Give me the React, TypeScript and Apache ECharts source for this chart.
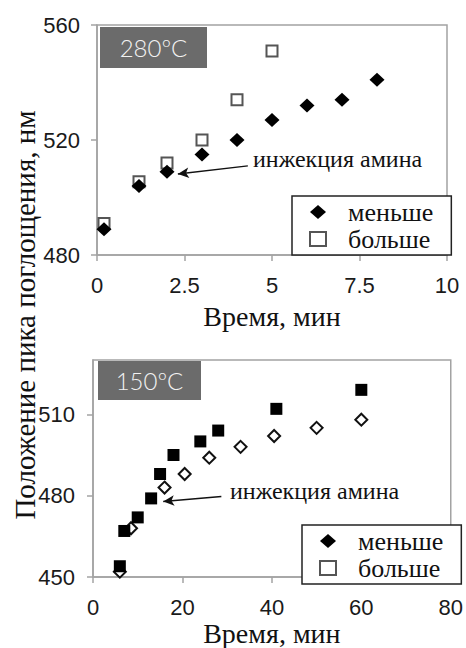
import React, { useEffect, useRef } from "react";
import * as echarts from "echarts";

// ---- Data ----
const topTimeSmaller = [0.2, 1.2, 2, 3, 4, 5, 6, 7, 8];
const topSmaller = [489, 504, 509, 515, 520, 527, 532, 534, 541];
const topTimeLarger = [0.2, 1.2, 2, 3, 4, 5];
const topLarger = [491, 505.5, 512, 520, 534, 551];

const bottomTimeSmaller = [6, 7, 10, 13, 15, 18, 24, 28, 41, 60];
const bottomSmaller = [454, 467, 472, 479, 488, 495, 500, 504, 512, 519];
const bottomTimeLarger = [6, 8.5, 16, 20.5, 26, 33, 40.5, 50, 60];
const bottomLarger = [452, 468, 483, 488, 494, 498, 502, 505, 508];

const bottomYTicks = [450, 480, 510];

const seriesNames = ["меньше", "больше"];
const xTitle = "Время, мин";
const yTitle = "Положение пика поглощения, нм";
const annotation = "инжекция амина";
const topLabel = "280ºC";
const bottomLabel = "150ºC";

// arrow endpoints in data units
const topArrow = [[4.31, 511], [2.31, 508.2]];
const bottomArrow = [[28.7, 479.7], [15.7, 477.9]];

const zip = (xs: number[], ys: number[]) => xs.map((x, i) => [x, ys[i]]);

const SERIF = '"Liberation Serif", "Times New Roman", serif';
const SANS = '"Liberation Sans", Arial, sans-serif';
const AXIS_GRAY = "#a3a3a3";

function makeArrow(pts: number[][]) {
  return {
    silent: true,
    symbol: ["none", "arrow"],
    symbolSize: [8, 11],
    lineStyle: { color: "#111", width: 1.5, type: "solid" },
    label: { show: false },
    data: [[{ coord: pts[0] }, { coord: pts[1] }]],
  };
}

function xAxisCfg(gridIndex: number, max: number, interval: number, gap: number) {
  return {
    type: "value",
    gridIndex,
    min: 0,
    max,
    interval,
    name: xTitle,
    nameLocation: "middle",
    nameGap: gap,
    nameTextStyle: { fontFamily: SERIF, fontSize: 28, color: "#111" },
    axisLine: { show: true, lineStyle: { color: AXIS_GRAY, width: 1.5 } },
    axisTick: { show: true, inside: false, length: 6, lineStyle: { color: AXIS_GRAY, width: 1.5 } },
    axisLabel: { fontFamily: SANS, fontSize: 22, color: "#1a1a1a", margin: 19 },
    splitLine: { show: false },
  };
}

function legendCfg(left: number, top: number) {
  return {
    left,
    top,
    orient: "vertical",
    selectedMode: false,
    data: [
      { name: seriesNames[0], icon: "diamond" },
      { name: seriesNames[1], icon: "rect" },
    ],
    itemWidth: 16,
    itemHeight: 14,
    itemGap: 1,
    borderColor: "#222",
    borderWidth: 1.5,
    padding: [3, 18, 3, 17],
    backgroundColor: "#fff",
    textStyle: { fontFamily: SERIF, fontSize: 26, color: "#111", padding: [0, 0, 0, 17] },
  };
}

function boxLabel(x: number, y: number, w: number, h: number, text: string) {
  return [
    { type: "rect", shape: { x, y, width: w, height: h }, style: { fill: "#6b6b6b" }, z: 10 },
    {
      type: "text",
      x: x + w / 2,
      y: y + h / 2,
      z: 11,
      style: {
        text,
        fill: "#f2f2f2",
        font: '300 24px Lato, "Open Sans", sans-serif',
        textAlign: "center",
        textVerticalAlign: "middle",
        align: "center",
        verticalAlign: "middle",
      },
    },
  ];
}

function annText(x: number, y: number) {
  return {
    type: "text",
    x,
    y,
    z: 11,
    style: {
      text: annotation,
      fill: "#111",
      font: "24px " + SERIF,
      textAlign: "left",
      textVerticalAlign: "middle",
      align: "left",
      verticalAlign: "middle",
    },
  };
}

export default function App() {
  const ref = useRef<HTMLDivElement>(null);
  useEffect(() => {
    const chart = echarts.init(ref.current!, null, { renderer: "svg" });
    const option: any = {
      animation: false,
      backgroundColor: "#fff",
      grid: [
        { left: 97, top: 25, width: 350, height: 230, show: true, borderColor: AXIS_GRAY, borderWidth: 1.5, backgroundColor: "transparent" },
        { left: 93, top: 360, width: 359, height: 220, show: true, borderColor: AXIS_GRAY, borderWidth: 1.5, backgroundColor: "transparent" },
      ],
      xAxis: [xAxisCfg(0, 10, 2.5, 47), xAxisCfg(1, 80, 20, 39)],
      yAxis: [
        {
          type: "value",
          gridIndex: 0,
          min: 480,
          max: 560,
          interval: 40,
          axisLine: { show: true, lineStyle: { color: AXIS_GRAY, width: 1.5 } },
          axisTick: { show: true, length: 6, lineStyle: { color: AXIS_GRAY, width: 1.5 } },
          axisLabel: { fontFamily: SANS, fontSize: 22, color: "#1a1a1a", margin: 17 },
          splitLine: { show: false },
        },
        {
          type: "value",
          gridIndex: 1,
          min: 450,
          max: 530,
          interval: 30,
          axisLine: { show: true, lineStyle: { color: AXIS_GRAY, width: 1.5 } },
          axisTick: { show: true, length: 6, customValues: bottomYTicks, lineStyle: { color: AXIS_GRAY, width: 1.5 } },
          axisLabel: { fontFamily: SANS, fontSize: 22, color: "#1a1a1a", margin: 18, customValues: bottomYTicks },
          splitLine: { show: false },
        },
      ],
      legend: [legendCfg(292, 196), legendCfg(302, 525)],
      series: [
        {
          name: seriesNames[1],
          type: "scatter",
          xAxisIndex: 0,
          yAxisIndex: 0,
          data: zip(topTimeLarger, topLarger),
          symbol: "rect",
          symbolSize: 11,
          itemStyle: { color: "#fff", borderColor: "#555", borderWidth: 2, opacity: 1 },
          z: 2,
        },
        {
          name: seriesNames[0],
          type: "scatter",
          xAxisIndex: 0,
          yAxisIndex: 0,
          data: zip(topTimeSmaller, topSmaller),
          symbol: "diamond",
          symbolSize: [15, 14],
          itemStyle: { color: "#000", opacity: 1 },
          z: 3,
          markLine: makeArrow(topArrow),
        },
        {
          name: seriesNames[1],
          type: "scatter",
          xAxisIndex: 1,
          yAxisIndex: 1,
          data: zip(bottomTimeLarger, bottomLarger),
          symbol: "diamond",
          symbolSize: 12,
          itemStyle: { color: "#fff", borderColor: "#111", borderWidth: 2, opacity: 1 },
          z: 2,
        },
        {
          name: seriesNames[0],
          type: "scatter",
          xAxisIndex: 1,
          yAxisIndex: 1,
          data: zip(bottomTimeSmaller, bottomSmaller),
          symbol: "rect",
          symbolSize: 12,
          itemStyle: { color: "#000", opacity: 1 },
          z: 3,
          markLine: makeArrow(bottomArrow),
        },
      ],
      graphic: [
        ...boxLabel(100, 27, 107, 41, topLabel),
        ...boxLabel(98, 361, 103, 39, bottomLabel),
        annText(253, 159),
        annText(230, 491),
        {
          type: "text",
          x: 25,
          y: 315,
          rotation: Math.PI / 2,
          style: {
            text: yTitle,
            fill: "#111",
            font: "29px " + SERIF,
            textAlign: "center",
            textVerticalAlign: "middle",
            align: "center",
            verticalAlign: "middle",
          },
        },
      ],
    };
    chart.setOption(option);
    return () => chart.dispose();
  }, []);
  return <div ref={ref} style={{ position: "absolute", left: 0, top: 0, width: 466, height: 648 }} />;
}
